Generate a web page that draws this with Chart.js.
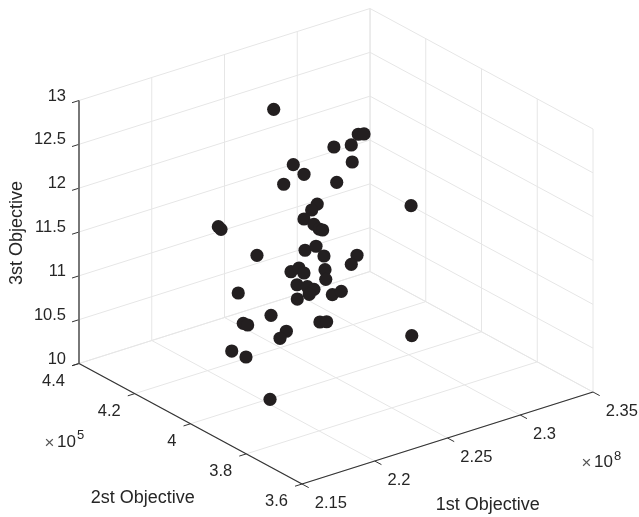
<!DOCTYPE html>
<html>
<head>
<meta charset="utf-8">
<style>html,body{margin:0;padding:0;background:#fff}canvas{display:block}</style>
<script src="https://cdn.jsdelivr.net/npm/chart.js@4"></script>
</head>
<body>
<canvas id="c" width="639" height="517"></canvas>
<script>
// Values
const objective1 = [2.2455,2.2398,2.2376,2.2428,2.2266,2.2246,2.2340,2.2371,2.2371,2.2395,2.2310,2.2289,2.2274,2.2364,2.2286,2.2264,2.2357,2.2356,2.2344,2.2303,2.2299,2.2252,2.2238,2.2366,2.2284,2.2291,2.2316,2.2349,2.2245,2.2268,2.2173,2.2245,2.2198,2.2225,2.2150,2.2142,2.2197,2.2211,2.2090,2.2073,2.1855,2.2537,2.2390,2.2375,2.2500,2.2501,2.2420,2.2390,2.2446];
const objective2 = [4.20,4.10,4.05,4.15,4.30,4.28,4.20,4.00,4.02,4.06,3.98,3.95,3.93,4.04,3.96,3.92,3.85,3.87,4.08,4.03,4.01,3.91,3.90,4.07,3.99,3.97,4.00,4.06,3.88,3.86,4.18,4.10,3.90,3.89,4.15,4.13,4.02,4.05,4.16,4.10,3.90,3.75,3.95,3.88,3.92,3.90,3.90,3.94,3.70];
const objective3 = [12.742,12.312,12.300,11.987,11.331,11.345,11.137,12.049,11.947,11.763,11.884,11.893,11.924,11.457,11.681,11.650,11.730,11.593,11.154,11.304,11.283,11.517,11.432,11.011,11.169,11.170,11.048,10.874,11.288,11.348,10.829,10.674,10.966,10.972,10.547,10.566,10.655,10.516,10.245,10.289,10.264,12.373,12.776,12.927,12.915,12.952,12.675,12.390,11.024];
const xTicks = [2.15,2.2,2.25,2.3,2.35];
const yTicks = [3.6,3.8,4,4.2,4.4];
const zTicks = [10,10.5,11,11.5,12,12.5,13];
const xTickLabels = ["2.15","2.2","2.25","2.3","2.35"];
const yTickLabels = ["3.6","3.8","4","4.2","4.4"];
const zTickLabels = ["10","10.5","11","11.5","12","12.5","13"];
const xTitle = "1st Objective", yTitle = "2st Objective", zTitle = "3st Objective";

const xMin=2.15,xMax=2.35,yMin=3.6,yMax=4.4,zMin=10,zMax=13;
// Orthographic view of the 3D box onto the page plane
const O={x:302,y:484}, EX={x:291,y:-92}, EY={x:-223,y:-120.5}, EZ={x:0,y:-263};
function P(X,Y,Z){
  const a=(X-xMin)/(xMax-xMin), b=(Y-yMin)/(yMax-yMin), c=(Z-zMin)/(zMax-zMin);
  return {x:O.x+a*EX.x+b*EY.x+c*EZ.x, y:O.y+a*EX.y+b*EY.y+c*EZ.y};
}
function seg(A,B,color,width){
  return {type:'line',data:[A,B],showLine:true,borderColor:color,borderWidth:width,pointRadius:0,order:2,fill:false,tension:0,borderCapStyle:'butt'};
}
const GRID='#e6e6e6', AX='#333333';
const sets=[];
xTicks.forEach(v=>{
  sets.push(seg(P(v,yMin,zMin),P(v,yMax,zMin),GRID,1));
  sets.push(seg(P(v,yMax,zMin),P(v,yMax,zMax),GRID,1));
});
yTicks.forEach(v=>{
  sets.push(seg(P(xMin,v,zMin),P(xMax,v,zMin),GRID,1));
  sets.push(seg(P(xMax,v,zMin),P(xMax,v,zMax),GRID,1));
});
zTicks.forEach(v=>{
  sets.push(seg(P(xMin,yMax,v),P(xMax,yMax,v),GRID,1));
  sets.push(seg(P(xMax,yMax,v),P(xMax,yMin,v),GRID,1));
});
// axes
const axisSets=[
  seg(P(xMin,yMin,zMin),P(xMax,yMin,zMin),AX,1.2),
  seg(P(xMin,yMin,zMin),P(xMin,yMax,zMin),AX,1.2),
  seg(P(xMin,yMax,zMin),P(xMin,yMax,zMax),'#6a6a6a',1.8)
];
const tx=0.0048, ty=0.024;
xTicks.forEach(v=>axisSets.push(seg(P(v,yMin,zMin),P(v,yMin-ty,zMin),AX,1)));
yTicks.forEach(v=>axisSets.push(seg(P(xMin,v,zMin),P(xMin-tx,v,zMin),AX,1)));
zTicks.forEach(v=>axisSets.push(seg(P(xMin,yMax,v),P(xMin-tx,yMax,v),AX,1)));
axisSets.forEach(s=>{s.order=1;sets.push(s);});
sets.push({
  type:'scatter',
  data:objective1.map((v,i)=>P(v,objective2[i],objective3[i])),
  pointRadius:6.6,pointBackgroundColor:'#231f20',pointBorderWidth:0,order:0
});

const FONT='"Liberation Sans", Arial, sans-serif';
const TEXT='#262626';
const labelsPlugin={
  id:'axisText',
  afterDraw(chart){
    const c=chart.ctx, sx=chart.scales.x, sy=chart.scales.y;
    const put=(t,p,dx,dy,align,size,color)=>{
      c.font=size+'px '+FONT;c.fillStyle=color||TEXT;c.textAlign=align;c.textBaseline='middle';
      c.fillText(t,sx.getPixelForValue(p.x)+dx,sy.getPixelForValue(p.y)+dy);
    };
    c.save();
    zTicks.forEach((v,i)=>put(zTickLabels[i],P(xMin,yMax,v),-13,-4.5,'right',16.5));
    yTicks.forEach((v,i)=>put(yTickLabels[i],P(xMin,v,zMin),-14,17.5,'right',16.5));
    xTicks.forEach((v,i)=>put(xTickLabels[i],P(v,yMin,zMin),12.7,19.3,'left',16.5));
    const page=(t,x,y,align,size,color)=>put(t,{x,y},0,0,align,size,color);
    page(xTitle,487.7,505,'center',18);
    page(yTitle,142.7,497.7,'center',18);
    c.font='18px '+FONT;c.fillStyle=TEXT;c.textAlign='center';c.textBaseline='middle';
    c.translate(16.7,233);c.rotate(-Math.PI/2);c.fillText(zTitle,0,0);c.setTransform(1,0,0,1,0,0);
    page('\u00d7',49.5,443,'center',17,'#555');
    page('10',57,442,'left',17);
    page('5',77,435,'left',13);
    page('\u00d7',586.5,463,'center',17,'#555');
    page('10',594,462,'left',17);
    page('8',614,456.5,'left',13);
    c.restore();
  }
};
new Chart(document.getElementById('c'),{
  type:'scatter',
  data:{datasets:sets},
  plugins:[labelsPlugin],
  options:{
    responsive:false,animation:false,events:[],
    layout:{padding:0,autoPadding:false},
    plugins:{legend:{display:false},title:{display:false},tooltip:{enabled:false}},
    scales:{
      x:{type:'linear',min:0,max:639,display:false},
      y:{type:'linear',min:0,max:517,reverse:true,display:false}
    }
  }
});
</script>
</body>
</html>
